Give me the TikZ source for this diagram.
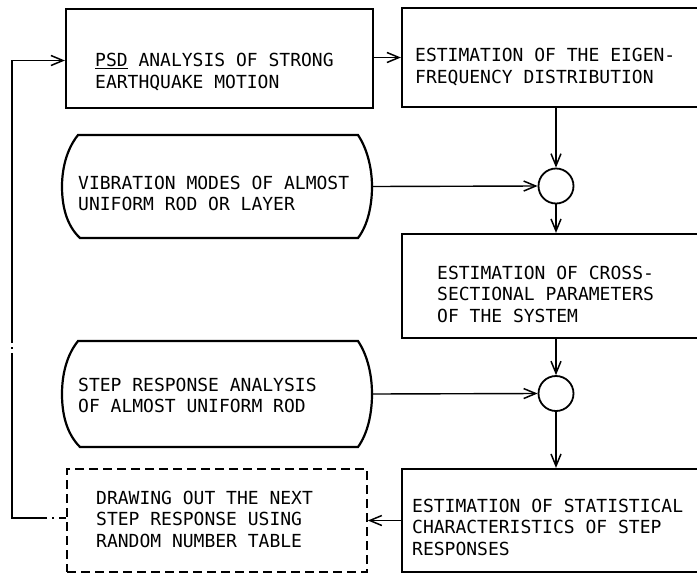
\documentclass[tikz,border=0pt]{standalone}
\usepackage{fontspec}
\newfontfamily\pf{DejaVu Sans Mono}
\usetikzlibrary{arrows.meta,calc}
\begin{document}
\begin{tikzpicture}[x=1pt,y=-1pt,
  boxst/.style={draw,line width=2.2pt,rectangle,inner sep=0pt},
  dshst/.style={draw,line width=1.8pt,rectangle,inner sep=0pt,dash pattern=on 9pt off 5pt},
  circst/.style={draw,line width=1.8pt,circle,minimum size=35pt,inner sep=0pt},
  shp/.style={line width=2.2pt},
  txt/.style={anchor=base west,align=left,inner sep=0pt,font=\pf\fontsize{18}{21.5}\selectfont},
  conn/.style={line width=1.4pt,-{Straight Barb[length=12pt,width=10pt,line width=1.5pt]}},
  fbk/.style={line width=1.4pt,dash pattern=on 7pt off 5pt on 2pt off 5pt on 200pt off 4pt on 2pt off 4pt on 400pt off 1pt,-{Straight Barb[length=12pt,width=10pt,line width=1.5pt]}}
]
\useasboundingbox (0,0) rectangle (697,574);
\clip (0,0) rectangle (697,574);
% boxes
\node[boxst,minimum width=307pt,minimum height=99pt] (b1) at (219.5,58.5) {};
\node[txt] (t1) at (95,88) {\underline{PSD} ANALYSIS OF STRONG\\EARTHQUAKE MOTION};
\node[boxst,minimum width=303pt,minimum height=99pt] (b2) at (553.5,57.5) {};
\node[txt] (t2) at (415,83) {ESTIMATION OF THE EIGEN-\\FREQUENCY DISTRIBUTION};
\node[circst] (c1) at (556,186) {};
\node[boxst,minimum width=303pt,minimum height=104pt] (b3) at (553.5,286) {};
\node[txt] (t3) at (437,322) {ESTIMATION OF CROSS-\\SECTIONAL PARAMETERS\\OF THE SYSTEM};
\node[circst] (c2) at (556,393.5) {};
\node[boxst,minimum width=303pt,minimum height=103pt] (b4) at (553.5,520.5) {};
\node[txt] (t4) at (412,555) {ESTIMATION OF STATISTICAL\\CHARACTERISTICS OF STEP\\RESPONSES};
\node[dshst,minimum width=300pt,minimum height=103pt] (dsh) at (217,520.5) {};
\node[txt] (t5) at (96,547) {DRAWING OUT THE NEXT\\STEP RESPONSE USING\\RANDOM NUMBER TABLE};
% curved-side shapes
\draw[shp] (78,135) -- (358,135) .. controls (368,150) and (372,170) .. (372,186.5)
  .. controls (372,205) and (368,225) .. (358,238) -- (80,238)
  .. controls (66,225) and (62,205) .. (62,186.5) .. controls (62,170) and (66,150) .. cycle;
\coordinate (vibR) at (372,186.5);
\node[txt] (t6) at (78,210.5) {VIBRATION MODES OF ALMOST\\UNIFORM ROD OR LAYER};
\draw[shp] (78,341) -- (358,341) .. controls (368,356) and (372,376) .. (372,394)
  .. controls (372,413) and (368,433) .. (358,447) -- (80,447)
  .. controls (66,433) and (62,413) .. (62,394) .. controls (62,376) and (66,356) .. cycle;
\coordinate (stepR) at (372,394);
\node[txt] (t7) at (78,412.5) {STEP RESPONSE ANALYSIS\\OF ALMOST UNIFORM ROD};
% connectors
\draw[conn] (b2.west -| b1.east) -- (b2.west);
\draw[conn] (c1.north |- b2.south) -- (c1.north);
\draw[conn] (vibR) -- (c1.west);
\draw[conn] (c1.south) -- (c1.south |- b3.north);
\draw[conn] (c2.north |- b3.south) -- (c2.north);
\draw[conn] (stepR) -- (c2.west);
\draw[conn] (c2.south) -- (c2.south |- b4.north);
\draw[conn] (b4.west) -- (dsh.east);
\coordinate (fbc) at (12,518);
\draw[fbk] (dsh.west |- fbc) -- (fbc) |- ($(b1.west)+(0,2)$);
\end{tikzpicture}
\end{document}
